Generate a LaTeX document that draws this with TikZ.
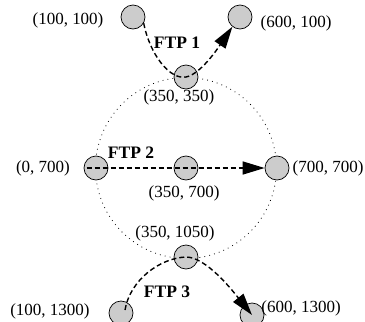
\documentclass[tikz,border=0pt]{standalone}
\usepackage{fontspec}
\setmainfont{Liberation Serif}
\usetikzlibrary{arrows.meta,calc}
\definecolor{nodegray}{RGB}{204,204,204}
\begin{document}
\begin{tikzpicture}[x=1pt,y=-1pt,
  site/.style={circle,draw=black,line width=0.7pt,fill=nodegray,minimum size=24pt,inner sep=0pt},
  lbl/.style={inner sep=0pt,font=\fontsize{17}{19}\selectfont},
  ftp/.style={inner sep=0pt,font=\fontsize{17.5}{19}\selectfont\bfseries},
  flow/.style={line width=1.4pt,dash pattern=on 5pt off 3pt,-{Triangle[length=22pt,width=13pt]}},
  ring/.style={line width=0.8pt,dash pattern=on 0.8pt off 4.2pt}]
\useasboundingbox (0,0) rectangle (365,322);
% dotted ring (behind the sites)
\coordinate (o) at (186,168);
\draw[ring] (o) circle[radius=90.5pt];
% sites
\node[site] (a) at (133,17) {};
\node[site] (b) at (240,17) {};
\node[site] (c) at (186,77) {};
\node[site] (d) at (96,168) {};
\node[site] (e) at (o) {};
\node[site] (f) at (277,168) {};
\node[site] (g) at (186,257) {};
\node[site] (h) at (121,313) {};
\node[site] (i) at (252,315) {};
% labels
\node[lbl] (la) at (68,20) {(100, 100)};
\node[lbl] (lb) at (296,23) {(600, 100)};
\node[lbl] (lc) at (179,97) {(350, 350)};
\node[lbl] (ld) at (43,168) {(0, 700)};
\node[lbl] (le) at (184,193) {(350, 700)};
\node[lbl] (lf) at (328,168) {(700, 700)};
\node[lbl] (lg) at (175,233) {(350, 1050)};
\node[lbl] (lh) at (50,311) {(100, 1300)};
\node[lbl] (li) at (301,308) {(600, 1300)};
\node[ftp] (f1) at (177,43) {FTP 1};
\node[ftp] (f2) at (131,153) {FTP 2};
\node[ftp] (f3) at (167,292) {FTP 3};
% flows
\draw[flow] (a.-30) .. controls (150,55) and (170,80) .. (c.center)
  .. controls (202,74) and (222,42) .. (b.-128);
\draw[flow,shorten <=3pt] (d.west) -- (e.center) -- (f.west);
\coordinate (hs) at ($(h.center)+(4,-3)$);
\draw[flow] (hs) .. controls (130,280) and (160,258) .. (g.center)
  .. controls (206,257) and (232,290) .. (i.center);
\end{tikzpicture}
\end{document}
